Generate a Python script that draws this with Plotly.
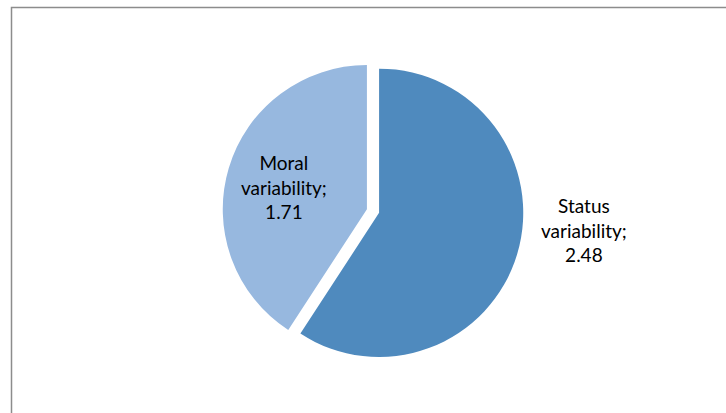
import plotly.graph_objects as go

# Variability components
labels = ["Status variability", "Moral variability"]
values = [2.48, 1.71]
colors = ["#4F8ABE", "#97B8DF"]

# label anchor points (paper coordinates) for each slice's caption
label_x = [0.804, 0.391]
label_y = [0.443, 0.547]

W, H = 726, 413
cx, cy, size = 373, 211, 301

fig = go.Figure(
    go.Pie(
        labels=labels,
        values=values,
        sort=False,
        direction="clockwise",
        rotation=0,
        pull=[0.044, 0.044],
        marker=dict(colors=colors, line=dict(width=0)),
        textinfo="none",
        hoverinfo="label+value",
        showlegend=False,
        domain=dict(
            x=[(cx - size / 2) / W, (cx + size / 2) / W],
            y=[(H - cy - size / 2) / H, (H - cy + size / 2) / H],
        ),
    )
)

for lab, val, x, y in zip(labels, values, label_x, label_y):
    first, second = lab.split(" ")
    fig.add_annotation(
        x=x, y=y, xref="paper", yref="paper",
        text=f"{first}<br>{second};<br>{val:.2f}",
        showarrow=False,
        xanchor="center", yanchor="middle",
        font=dict(family="Lato", size=19, color="#000000"),
        align="center",
    )

# chart-area frame
fig.add_shape(
    type="rect", xref="paper", yref="paper",
    x0=11.5 / W, x1=1.2, y0=-0.2, y1=1 - 7.5 / H,
    line=dict(color="#8c8c8c", width=1.5),
    fillcolor="rgba(0,0,0,0)",
)

fig.update_layout(
    width=W, height=H,
    margin=dict(l=0, r=0, t=0, b=0),
    paper_bgcolor="white",
    plot_bgcolor="white",
)

fig.write_html("out.html")
